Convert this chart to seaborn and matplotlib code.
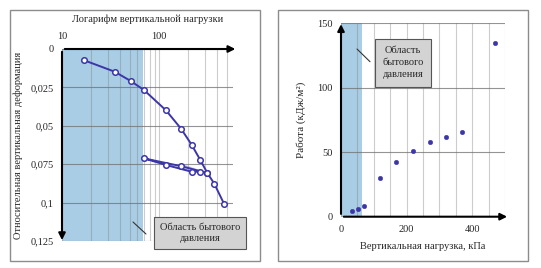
import numpy as np
import matplotlib
matplotlib.use("Agg")
import matplotlib.pyplot as plt
import matplotlib.ticker as mticker
from matplotlib.patches import Rectangle
from matplotlib.lines import Line2D
import seaborn as sns
import pandas as pd

# left panel: compression curve (log load vs relative deformation)
load_x = [17, 35, 51, 70, 118, 169, 217, 267, 315, 372, 468]
load_y = [0.0074, 0.0148, 0.0208, 0.0267, 0.0399, 0.0519, 0.0623, 0.0723, 0.0807, 0.0877, 0.1007]
# unload / reload loop
cycle_x = [315, 169, 70, 118, 169, 217, 267, 315]
cycle_y = [0.0807, 0.0747, 0.0712, 0.0755, 0.0779, 0.0799, 0.0799, 0.0807]
left_yticks = [0, 0.025, 0.05, 0.075, 0.1, 0.125]
left_xticks = [10, 100]

# right panel: work vs vertical load
work_x = [35, 52, 70, 120, 169, 220, 270, 319, 370, 470]
work_y = [4.2, 5.7, 8.3, 30.2, 42.6, 50.7, 57.7, 61.5, 65.5, 135]
right_yticks = [0, 50, 100, 150]
right_xticks = [0, 200, 400]

shade_left = (10, 68)
shade_right = (0, 65)
box_text_left = "Область бытового\nдавления"
box_text_right = "Область\nбытового\nдавления"

sns.set_style("white")
plt.rcParams["font.family"] = ["Liberation Serif", "DejaVu Serif"]

W, H = 541, 268
fig = plt.figure(figsize=(W / 100, H / 100), dpi=100)

def fx(px):
    return px / W

def fy(py):
    return 1 - py / H

line_col = "#3c36a8"
shade_col = "#a9cde5"
fs = 7.5

# outer frames
for x0, x1 in [(10, 260), (278, 528)]:
    fig.patches.append(Rectangle((fx(x0), fy(261)), fx(x1 - x0), (251) / H,
                                 transform=fig.transFigure, fill=False,
                                 edgecolor="#8c8c8c", lw=1.0))

# ---------- left panel ----------
ax1 = fig.add_axes([fx(62), fy(241), fx(171), 192 / H])
ax1.set_xscale("log")
ax1.set_xlim(10, 580)
ax1.set_ylim(0.125, 0)
ax1.axvspan(*shade_left, color=shade_col, zorder=0.2, lw=0)

df_load = pd.DataFrame({"x": load_x, "y": load_y})
df_cycle = pd.DataFrame({"x": cycle_x, "y": cycle_y})
for d in (df_load, df_cycle):
    sns.lineplot(data=d, x="x", y="y", sort=False, ax=ax1, color=line_col, lw=1.4,
                 marker="o", markersize=4, markerfacecolor="white",
                 markeredgecolor=line_col, markeredgewidth=1.1, zorder=3)

ax1.set_axisbelow(True)
ax1.xaxis.set_major_locator(mticker.FixedLocator(left_xticks))
ax1.xaxis.set_minor_locator(mticker.LogLocator(base=10, subs=np.arange(2, 10)))
ax1.xaxis.set_major_formatter(mticker.FuncFormatter(lambda v, p: f"{v:g}"))
ax1.xaxis.set_minor_formatter(mticker.NullFormatter())
ax1.set_yticks(left_yticks)
ax1.yaxis.set_major_formatter(mticker.FuncFormatter(lambda v, p: f"{v:g}".replace(".", ",")))
ax1.grid(True, which="both", axis="x", color="#808080", alpha=0.4, lw=0.8)
ax1.grid(True, which="major", axis="y", color="#707070", alpha=0.75, lw=0.8)
ax1.xaxis.tick_top()
ax1.xaxis.set_label_position("top")
ax1.tick_params(axis="both", which="both", length=0, labelsize=fs, pad=6)
ax1.set_xlabel("Логарифм вертикальной нагрузки", fontsize=fs, labelpad=7)
ax1.set_ylabel("Относительная вертикальная деформация", fontsize=fs, labelpad=5)
for s in ax1.spines.values():
    s.set_visible(False)
ax1.annotate("", xy=(1.03, 1), xytext=(0, 1), xycoords="axes fraction",
             arrowprops=dict(arrowstyle="-|>", color="black", lw=1.5, mutation_scale=10))
ax1.annotate("", xy=(0, -0.01), xytext=(0, 1), xycoords="axes fraction",
             arrowprops=dict(arrowstyle="-|>", color="black", lw=1.5, mutation_scale=10))

fig.text(fx(200), fy(233), box_text_left, ha="center", va="center", fontsize=fs,
         linespacing=1.3,
         bbox=dict(boxstyle="square,pad=0.55", facecolor="#d3d3d3", edgecolor="#555555", lw=0.8))
fig.lines.append(Line2D([fx(133), fx(146)], [fy(222), fy(234)], transform=fig.transFigure,
                        color="#333333", lw=0.8))

# ---------- right panel ----------
ax2 = fig.add_axes([fx(341), fy(216.7), fx(164), 193.4 / H])
ax2.set_xlim(0, 500)
ax2.set_ylim(0, 150)
ax2.axvspan(*shade_right, color=shade_col, zorder=0.2, lw=0)
df_work = pd.DataFrame({"x": work_x, "y": work_y})
sns.scatterplot(data=df_work, x="x", y="y", ax=ax2, color=line_col, s=11,
                edgecolor=line_col, zorder=3)
ax2.set_axisbelow(True)
ax2.set_xticks(right_xticks)
ax2.xaxis.set_minor_locator(mticker.MultipleLocator(50))
ax2.set_yticks(right_yticks)
ax2.grid(True, which="both", axis="x", color="#808080", alpha=0.4, lw=0.8)
ax2.grid(True, which="major", axis="y", color="#707070", alpha=0.75, lw=0.8)
ax2.tick_params(axis="both", which="both", length=0, labelsize=fs, pad=6)
ax2.set_xlabel("Вертикальная нагрузка, кПа", fontsize=fs, labelpad=6)
ax2.set_ylabel("Работа (кДж/м²)", fontsize=8, labelpad=8)
for s in ax2.spines.values():
    s.set_visible(False)
ax2.annotate("", xy=(1.03, 0), xytext=(0, 0), xycoords="axes fraction",
             arrowprops=dict(arrowstyle="-|>", color="black", lw=1.5, mutation_scale=10))
ax2.annotate("", xy=(0, 1.01), xytext=(0, 0), xycoords="axes fraction",
             arrowprops=dict(arrowstyle="-|>", color="black", lw=1.5, mutation_scale=10))

fig.text(fx(403), fy(62.7), box_text_right, ha="center", va="center", fontsize=fs,
         linespacing=1.45,
         bbox=dict(boxstyle="square,pad=0.7", facecolor="#d3d3d3", edgecolor="#555555", lw=0.8))
fig.lines.append(Line2D([fx(357), fx(370)], [fy(49), fy(61.7)], transform=fig.transFigure,
                        color="#333333", lw=0.8))

fig.savefig("out.png", dpi=100)
